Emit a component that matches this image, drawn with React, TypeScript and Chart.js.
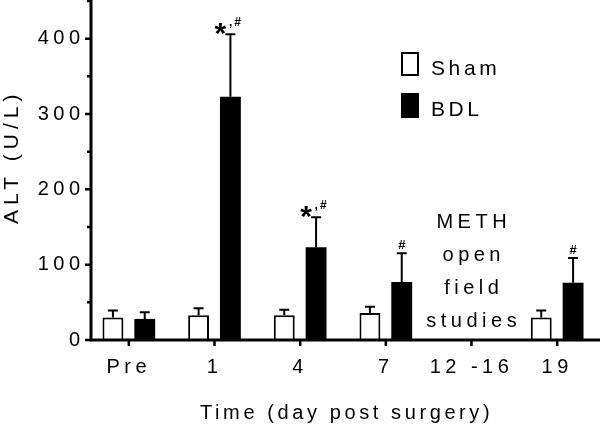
import React, { useEffect, useRef } from 'react';
import { Chart, registerables } from 'chart.js';

Chart.register(...registerables);

// ---- data ----
const categories = ['Pre', '1', '4', '7', '12 -16', '19'];
const seriesLabels = ['Sham', 'BDL'];
const shamMean = [30, 33, 33, 36, null, 30];
const shamSem = [9, 9, 7, 8, null, 9];
const bdlMean = [28, 323, 123, 77, null, 76];
const bdlSem = [9, 83, 40, 38, null, 33];
const bdlSig = ['', '*,#', '*,#', '#', '', '#'];
const yMin = 0;
const yMax = 450;
const yStep = 50;
const yLabelStep = 100;
const methCategory = '12 -16';
const methLines = ['METH', 'open', 'field', 'studies'];
const xTitle = 'Time (day post surgery)';
const yTitle = 'ALT (U/L)';

const FAMILY = "'Liberation Sans', Arial, sans-serif";

function drawSpaced(ctx: any, text: string, x: number, y: number, font: string, spacing: number, align: 'left' | 'center' = 'left') {
  ctx.save();
  ctx.font = font;
  ctx.letterSpacing = spacing + 'px';
  ctx.textAlign = 'left';
  ctx.textBaseline = 'alphabetic';
  ctx.fillStyle = '#000';
  let sx = x;
  if (align === 'center') {
    const w = ctx.measureText(text).width;
    sx = x - (w - spacing) / 2;
  }
  ctx.fillText(text, sx, y);
  ctx.restore();
}

const customPlugin = {
  id: 'customDraw',
  beforeDraw(chart: any) {
    chart.ctx.letterSpacing = '4.5px';
  },
  afterDatasetsDraw(chart: any) {
    const ctx = chart.ctx;
    const xs = chart.scales.x;
    const ys = chart.scales.y;
    const sems = [shamSem, bdlSem];
    const means = [shamMean, bdlMean];

    // error bars
    ctx.save();
    ctx.strokeStyle = '#000';
    ctx.lineWidth = 2;
    for (let d = 0; d < 2; d++) {
      const meta = chart.getDatasetMeta(d);
      meta.data.forEach((el: any, i: number) => {
        const m = means[d][i];
        const s = sems[d][i];
        if (m == null || s == null) return;
        const top = ys.getPixelForValue(m + s);
        const barTop = ys.getPixelForValue(m);
        ctx.beginPath();
        ctx.moveTo(el.x, barTop);
        ctx.lineTo(el.x, top);
        ctx.moveTo(el.x - 5, top);
        ctx.lineTo(el.x + 5, top);
        ctx.stroke();
      });
    }
    ctx.restore();

    // significance marks
    const bmeta = chart.getDatasetMeta(1);
    bmeta.data.forEach((el: any, i: number) => {
      const sig = bdlSig[i];
      if (!sig) return;
      const m = bdlMean[i];
      const s = bdlSem[i];
      if (m == null || s == null) return;
      const capY = ys.getPixelForValue(m + s);
      if (sig.startsWith('*')) {
        drawSpaced(ctx, '*', el.x - 10, capY + 9, `bold 30px ${FAMILY}`, 0, 'center');
        drawSpaced(ctx, sig.slice(1), el.x - 1.5, capY - 8, `bold 12px ${FAMILY}`, 2, 'left');
      } else {
        drawSpaced(ctx, sig, el.x, capY - 4, `bold 13px ${FAMILY}`, 0, 'center');
      }
    });

    // axes
    ctx.save();
    ctx.strokeStyle = '#000';
    ctx.lineCap = 'butt';
    const axisX = 91;
    const axisY = ys.getPixelForValue(0);
    ctx.lineWidth = 3;
    ctx.beginPath();
    ctx.moveTo(axisX, 0);
    ctx.lineTo(axisX, axisY + 1.5);
    ctx.moveTo(axisX - 1.5, axisY);
    ctx.lineTo(chart.width, axisY);
    ctx.stroke();
    ctx.lineWidth = 2.5;
    ctx.beginPath();
    for (let v = yMin; v <= yMax; v += yStep) {
      const py = ys.getPixelForValue(v);
      const len = v % yLabelStep === 0 ? 6 : 4;
      ctx.moveTo(axisX - len, py);
      ctx.lineTo(axisX, py);
    }
    categories.forEach((c, i) => {
      const px = xs.getPixelForValue(i);
      ctx.moveTo(px, axisY);
      ctx.lineTo(px, axisY + 6);
    });
    ctx.stroke();
    ctx.restore();
  },
  afterDraw(chart: any) {
    const ctx = chart.ctx;
    const xs = chart.scales.x;
    const ds = chart.data.datasets;

    // legend
    ctx.save();
    const lx = 401;
    const rows = [52, 93];
    ds.forEach((d: any, i: number) => {
      const y = rows[i];
      if (d.backgroundColor === '#fff') {
        ctx.fillStyle = '#fff';
        ctx.fillRect(lx, y, 18, 24);
        ctx.strokeStyle = '#000';
        ctx.lineWidth = 2;
        ctx.strokeRect(lx + 1, y + 1, 16, 22);
      } else {
        ctx.fillStyle = d.backgroundColor;
        ctx.fillRect(lx, y, 18, 25);
      }
      drawSpaced(ctx, d.label, 431, y + 23, `21px ${FAMILY}`, 3.6, 'left');
    });
    ctx.restore();

    // METH text
    const mx = xs.getPixelForValue(categories.indexOf(methCategory));
    const baselines = [228, 261, 294, 327];
    methLines.forEach((t, i) => {
      drawSpaced(ctx, t, mx, baselines[i], `20px ${FAMILY}`, 4.5, 'center');
    });

    // x title
    drawSpaced(ctx, xTitle, 200, 419, `20px ${FAMILY}`, 3.6, 'left');

    // y title
    ctx.save();
    ctx.translate(18, 224);
    ctx.rotate(-Math.PI / 2);
    drawSpaced(ctx, yTitle, 0, 0, `21px ${FAMILY}`, 5, 'left');
    ctx.restore();
  },
};

export default function App() {
  const ref = useRef<HTMLCanvasElement | null>(null);
  useEffect(() => {
    if (!ref.current) return;
    const chart = new Chart(ref.current, {
      type: 'bar',
      data: {
        labels: categories,
        datasets: [
          {
            label: seriesLabels[0],
            data: shamMean,
            backgroundColor: '#fff',
            borderColor: '#000',
            borderWidth: 2,
            categoryPercentage: 0.743,
            barPercentage: 0.656,
          },
          {
            label: seriesLabels[1],
            data: bdlMean,
            backgroundColor: '#000',
            borderColor: '#000',
            borderWidth: 0,
            categoryPercentage: 0.743,
            barPercentage: 0.656,
          },
        ],
      } as any,
      options: {
        responsive: false,
        animation: false,
        layout: { padding: { top: 1, right: -3, left: 0, bottom: 0 } },
        plugins: { legend: { display: false }, tooltip: { enabled: false } },
        scales: {
          x: {
            type: 'category',
            offset: true,
            grid: { display: false, drawTicks: false },
            border: { display: false },
            ticks: {
              color: '#000',
              font: { family: FAMILY, size: 20 },
              padding: 15,
              maxRotation: 0,
              autoSkip: false,
            },
            afterFit: (s: any) => {
              s.height = 85;
              s.paddingLeft = 0;
              s.paddingRight = 0;
            },
          },
          y: {
            min: yMin,
            max: yMax,
            grid: { display: false, drawTicks: false },
            border: { display: false },
            ticks: {
              stepSize: yStep,
              color: '#000',
              font: { family: FAMILY, size: 20 },
              padding: 1.5,
              callback: (v: any) => (Number(v) % yLabelStep === 0 ? String(v) : ''),
            },
            afterFit: (s: any) => {
              s.width = 86;
              s.paddingTop = 0;
              s.paddingBottom = 0;
            },
          },
        },
      } as any,
      plugins: [customPlugin],
    });
    return () => chart.destroy();
  }, []);
  return (
    <canvas
      ref={ref}
      width={600}
      height={425}
      style={{ position: 'absolute', left: 0, top: 0, display: 'block', background: '#fff' }}
    />
  );
}
